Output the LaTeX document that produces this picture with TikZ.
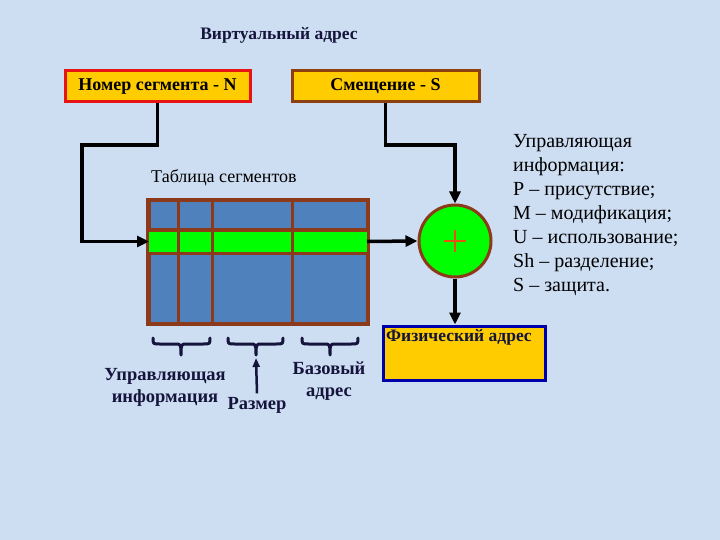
\documentclass[tikz,border=0pt]{standalone}
\usepackage{fontspec}
\setmainfont{Liberation Serif}
\usetikzlibrary{arrows.meta}
\definecolor{bgc}{RGB}{206,222,242}
\definecolor{gold}{RGB}{255,204,0}
\definecolor{redb}{RGB}{230,20,20}
\definecolor{brownb}{RGB}{140,64,16}
\definecolor{tblue}{RGB}{79,129,189}
\definecolor{tline}{RGB}{140,58,26}
\definecolor{tgreen}{RGB}{0,255,0}
\definecolor{plusc}{RGB}{230,80,16}
\definecolor{physb}{RGB}{0,0,170}
\definecolor{navy}{RGB}{20,20,60}
\begin{document}
\begin{tikzpicture}[x=1pt,y=-1pt,
  conn/.style={line width=3.5pt,-{Triangle[length=12pt,width=11pt]}},
  topbox/.style={fill=gold,line width=3pt,minimum height=31pt,inner sep=0pt,
     font=\bfseries\fontsize{18}{20}\selectfont},
  grid/.style={draw=tline,line width=3pt},
  bracec/.style={draw=navy,line width=3pt,line cap=round,line join=round},
  lbl/.style={font=\bfseries\fontsize{18.5}{22}\selectfont,align=center,text=navy},
]
\fill[bgc] (0,0) rectangle (720,540);
\useasboundingbox (0,0) rectangle (720,540);

\node[font=\bfseries\fontsize{17.5}{20}\selectfont,text=navy] (title) at (279,35) {Виртуальный адрес};
\node[topbox,draw=redb,minimum width=185pt] (N) at (157.5,86.5) {Номер сегмента - N};
\node[topbox,draw=brownb,minimum width=187pt] (S) at (385.5,86.5) {Смещение - S};

\node[font=\fontsize{18}{20}\selectfont,anchor=west,inner sep=0pt] (tt) at (151,178) {Таблица сегментов};

% table
\node[draw=tline,fill=tblue,line width=3pt,minimum width=218pt,minimum height=122pt,inner sep=0pt] (tbl) at (258,262) {};
\fill[tgreen] (149,230) rectangle (367,253);
\draw[grid] (149,230) -- (367,230) (149,253) -- (367,253)
  (178,201) -- (178,323) (212,201) -- (212,323) (292,201) -- (292,323);
\draw[draw=tline,line width=3pt] (tbl.north west) rectangle (tbl.south east);
\coordinate (rowL) at (149,241.5);
\coordinate (rowR) at (367,241.5);

% adder
\node[circle,draw=tline,fill=tgreen,line width=3pt,minimum size=72pt,inner sep=0pt] (plus) at (455,241) {};
\draw[plusc,line width=2.5pt] (444,241) -- (466,241) (455,230) -- (455,252);

% physical address
\node[draw=physb,fill=gold,line width=3pt,minimum width=162pt,minimum height=54pt,inner sep=0pt] (phys) at (464,353) {};
\node[anchor=north west,inner sep=0pt,font=\bfseries\fontsize{17.5}{19}\selectfont,text=navy] (physt) at (386,329) {Физический адрес};

% connectors
\draw[conn] (N.south) |- (82,145) |- (rowL);
\draw[conn] (S.south) |- (455,145) -- (plus.north);
\draw[conn] (rowR) -- (plus.west);
\draw[conn] (plus.south) -- (plus.south |- phys.north);

% right text
\node[anchor=north west,align=left,inner sep=0pt,font=\fontsize{20}{24}\selectfont] (info) at (513,134)
 {Управляющая\\информация:\\P – присутствие;\\M – модификация;\\U – использование;\\Sh – разделение;\\S – защита.};

% braces
\draw[bracec] (153,338) .. controls (153,344) .. (160,344) -- (175,344) .. controls (181,344) .. (181,355)
  .. controls (181,344) .. (187,344) -- (203,344) .. controls (210,344) .. (210,338);
\draw[bracec] (228,338) .. controls (228,344) .. (235,344) -- (250,344) .. controls (256,344) .. (256,355)
  .. controls (256,344) .. (262,344) -- (276,344) .. controls (283,344) .. (283,338);
\draw[bracec] (302,338) .. controls (302,344) .. (309,344) -- (324,344) .. controls (330,344) .. (330,355)
  .. controls (330,344) .. (336,344) -- (351,344) .. controls (358,344) .. (358,338);
\coordinate (tip2) at (256,358);

% bottom labels
\node[lbl] (ctl) at (165,387) {Управляющая\\информация};
\node[lbl] (size) at (257,405) {Размер};
\node[lbl] (base) at (329,381) {Базовый\\адрес};
\draw[navy,line width=2.5pt,-{Triangle[length=9pt,width=7pt]}] (size.north) -- (tip2);
\end{tikzpicture}
\end{document}
